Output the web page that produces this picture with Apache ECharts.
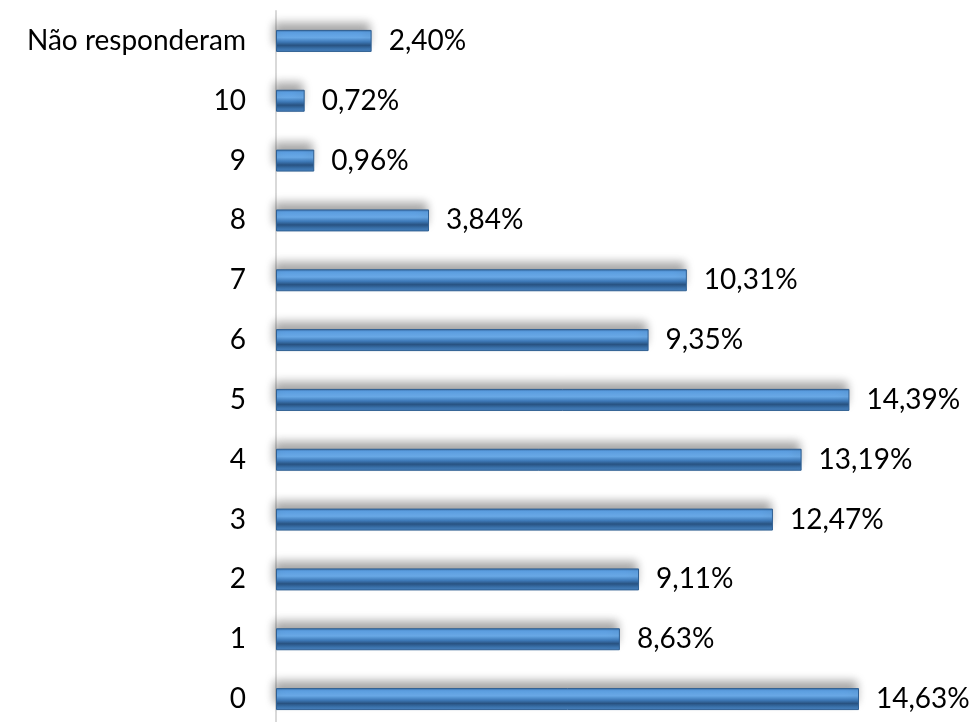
<!DOCTYPE html>
<html><head><meta charset="utf-8">
<script src="https://cdn.jsdelivr.net/npm/echarts@6/dist/echarts.min.js"></script>
<style>html,body{margin:0;padding:0;background:#fff}#c{width:974px;height:722px}</style>
</head><body><div id="c"></div>
<script>
const categories = ['0','1','2','3','4','5','6','7','8','9','10','Não responderam'];
const values = [14.63, 8.63, 9.11, 12.47, 13.19, 14.39, 9.35, 10.31, 3.84, 0.96, 0.72, 2.40];

const chart = echarts.init(document.getElementById('c'));
const FONT = 'Lato';
chart.setOption({
  animation: false,
  grid: { left: 276, top: 11, height: 718, width: 637.6, outerBoundsMode: 'none', containLabel: false },
  xAxis: { type: 'value', min: 0, max: 16, show: false },
  yAxis: {
    type: 'category', data: categories,
    axisLine: { show: true, onZero: false, lineStyle: { color: '#d9d9d9', width: 2 } },
    axisTick: { show: false },
    axisLabel: { color: '#000', fontFamily: FONT, fontSize: 28, margin: 30 }
  },
  series: [{
    type: 'bar', data: values, barWidth: 22,
    itemStyle: {
      color: new echarts.graphic.LinearGradient(0, 0, 0, 1, [
        { offset: 0, color: '#3a70aa' },
        { offset: 0.12, color: '#5c9ee0' },
        { offset: 0.35, color: '#6aaae8' },
        { offset: 0.55, color: '#3f7cbc' },
        { offset: 0.7, color: '#2a5585' },
        { offset: 0.85, color: '#3b73ad' },
        { offset: 1, color: '#4a84c2' }
      ]),
      borderColor: '#2f5f92', borderWidth: 1,
      shadowColor: 'rgba(0,0,0,0.35)', shadowBlur: 10, shadowOffsetY: -7, shadowOffsetX: -2
    },
    label: {
      show: true, position: 'right', distance: 17, color: '#000',
      fontFamily: FONT, fontSize: 28,
      formatter: p => p.value.toFixed(2).replace('.', ',') + '%'
    }
  }]
});
</script></body></html>
